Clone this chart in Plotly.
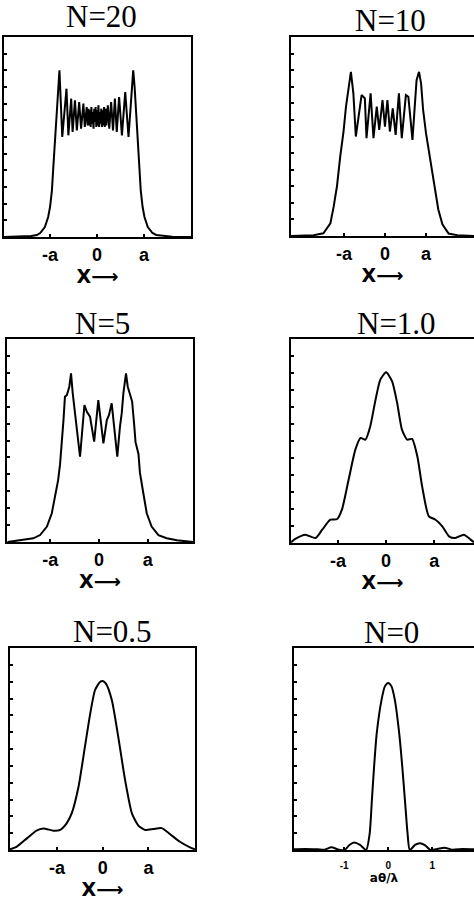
import plotly.graph_objects as go

W, H = 474, 904

# ---------------- data ----------------
x_n20 = [-2.06, -1.6, -1.4, -1.28, -1.21, -1.11, -1.04, -1.0, -0.96, -0.93, -0.89, -0.86, -0.82, -0.80,
         -0.74, -0.65, -0.61, -0.55, -0.52, -0.47, -0.43, -0.38, -0.34, -0.29, -0.26, -0.22,
         -0.20, -0.18, -0.165, -0.15, -0.135, -0.12, -0.105, -0.09, -0.075, -0.06, -0.045, -0.03,
         -0.015, 0.0, 0.015, 0.03, 0.045, 0.06, 0.075, 0.09, 0.105, 0.12, 0.135, 0.15, 0.165, 0.18,
         0.20, 0.23,
         0.26, 0.30, 0.34, 0.38, 0.42, 0.47, 0.53, 0.60, 0.67, 0.77,
         0.80, 0.83, 0.86, 0.90, 0.93, 0.97, 1.01, 1.08, 1.18, 1.26, 1.4, 1.6, 2.06]
y_n20 = [0.0, 0.02, 0.06, 0.12, 0.24, 0.6, 1.2, 1.8, 2.8, 4.2, 5.8, 7.6, 9.0, 10.0,
         6.0, 8.9, 6.1, 8.3, 6.3, 8.2, 6.4, 8.1, 6.5, 8.0, 6.6, 7.8,
         6.7, 7.7, 6.7, 7.6, 6.6, 7.8, 6.8, 7.5, 6.5, 7.7, 6.9, 7.8,
         6.6, 7.6, 6.7, 7.9, 6.6, 7.5, 6.8, 7.7, 6.6, 7.6, 6.7, 7.8, 6.6, 7.7,
         6.7, 7.9,
         6.5, 8.1, 6.4, 8.3, 6.3, 8.4, 6.1, 8.7, 6.0, 10.0,
         9.0, 7.6, 5.8, 4.2, 2.8, 1.8, 1.2, 0.6, 0.24, 0.12, 0.06, 0.02, 0.0]

x_n10 = [-2.29, -1.74, -1.50, -1.33, -1.25, -1.17, -1.09, -1.01, -0.95, -0.89, -0.83, -0.77, -0.71,
         -0.57, -0.49, -0.45, -0.35, -0.28, -0.20, -0.14, -0.06, 0.0, 0.06, 0.12, 0.19, 0.26, 0.34,
         0.41, 0.51, 0.57, 0.67, 0.77, 0.83, 0.88, 0.93, 1.0, 1.1, 1.2, 1.3, 1.4, 1.55, 1.76, 2.17]
y_n10 = [0.0, 0.05, 0.16, 0.77, 1.77, 3.0, 4.8, 6.3, 7.8, 9.0, 9.9, 8.6, 6.0,
         8.5, 8.3, 5.9, 8.6, 5.9, 7.8, 6.4, 8.2, 6.6, 8.2, 6.3, 7.7, 6.1, 8.6,
         5.9, 8.5, 8.4, 5.8, 9.4, 9.9, 9.2, 7.6, 6.2, 4.6, 3.0, 1.6, 0.7, 0.15, 0.05, 0.0]

x_n5 = [-1.88, -1.55, -1.35, -1.21, -1.07, -0.97, -0.90, -0.84, -0.80, -0.77, -0.73, -0.70, -0.66,
        -0.61, -0.575, -0.54, -0.49, -0.45, -0.39, -0.30, -0.25, -0.185, -0.10, -0.015, 0.09, 0.16,
        0.205, 0.26, 0.375, 0.43, 0.466, 0.50, 0.554, 0.59, 0.64, 0.68, 0.72, 0.75, 0.81, 0.84, 0.91,
        0.98, 1.08, 1.22, 1.39, 1.6, 1.93]
y_n5 = [0.0, 0.12, 0.22, 0.41, 0.91, 1.70, 2.88, 3.66, 4.6, 5.6, 7.2, 8.59, 8.69,
        9.18, 9.97, 8.79, 7.6, 6.82, 5.04, 8.10, 7.70, 7.41, 5.93, 8.39, 5.83, 7.21,
        7.51, 8.2, 5.04, 6.82, 7.6, 8.79, 9.97, 9.18, 8.6, 8.3, 7.0, 5.9, 5.2, 4.1, 2.88,
        1.70, 0.91, 0.41, 0.22, 0.1, 0.0]

x_n1 = [-1.98, -1.89, -1.68, -1.47, -1.33, -1.16, -1.02, -0.92, -0.78, -0.64, -0.53, -0.43, -0.33,
        -0.22, -0.12, 0.0, 0.125, 0.23, 0.33, 0.44, 0.54, 0.65, 0.75, 0.89, 1.03, 1.17, 1.31, 1.44,
        1.62, 1.76, 1.83]
y_n1 = [0.04, 0.24, 0.49, 0.29, 0.78, 1.37, 1.41, 1.96, 3.73, 5.49, 6.18, 6.08, 6.86,
        8.43, 9.61, 10.04, 9.51, 8.24, 6.67, 6.08, 6.12, 5.10, 3.33, 1.57, 1.37, 0.98, 0.39, 0.29,
        0.49, 0.20, 0.04]

x_n05 = [-2.03, -1.88, -1.66, -1.45, -1.30, -1.08, -0.93, -0.79, -0.68, -0.53, -0.39, -0.28, -0.17,
         -0.06, 0.0, 0.07, 0.20, 0.34, 0.49, 0.64, 0.78, 0.93, 1.11, 1.29, 1.47, 1.69, 1.91, 2.02]
y_n05 = [0.04, 0.2, 0.69, 1.15, 1.28, 1.15, 1.2, 1.58, 2.17, 3.76, 6.13, 8.0, 9.49,
         9.98, 10.04, 9.88, 8.9, 6.72, 4.15, 2.17, 1.45, 1.19, 1.25, 1.30, 0.95, 0.49, 0.16, 0.04]

x_n0 = [-2.14, -1.9, -1.6, -1.45, -1.29, -1.12, -0.99, -0.88, -0.77, -0.64, -0.50, -0.42, -0.37,
        -0.32, -0.26, -0.15, -0.075, 0.0, 0.075, 0.15, 0.25, 0.32, 0.38, 0.44, 0.49, 0.61, 0.72,
        0.84, 0.96, 1.12, 1.28, 1.45, 1.7, 1.95]
y_n0 = [0.04, 0.06, 0.04, 0.02, 0.16, 0.02, 0.0, 0.3, 0.44, 0.3, 0.0, 0.99, 2.98,
        4.96, 6.94, 8.93, 9.72, 9.92, 9.72, 8.93, 6.94, 4.96, 2.98, 0.99, 0.0, 0.3, 0.40,
        0.28, 0.0, 0.06, 0.14, 0.02, 0.06, 0.04]

titles = ["N=20", "N=10", "N=5", "N=1.0", "N=0.5", "N=0"]
tick_vals = [-1, 0, 1]
tick_text_a = ["-a", "0", "a"]
tick_text_n0 = ["-1", "0", "1"]
xtitle_a = "X\u27f6"
xtitle_n0 = "a\u03b8/\u03bb"

series = [(x_n20, y_n20, "linear"), (x_n10, y_n10, "linear"), (x_n5, y_n5, "linear"),
          (x_n1, y_n1, "spline"), (x_n05, y_n05, "spline"), (x_n0, y_n0, "spline")]

# ---------------- layout geometry (pixels) ----------------
boxes = [(4, 191, 37, 237), (291, 474, 37, 236), (7, 193, 339, 542),
         (291, 474, 339, 543), (10, 195, 648, 850), (294, 474, 648, 850)]
xranges = [[-1.98, 2.0], [-2.29, 2.17], [-1.89, 1.93], [-1.98, 1.83], [-2.03, 2.02], [-2.14, 1.95]]
# (centre x, baseline y) of each panel title
title_pos = [(101, 28.5), (390, 32), (102, 335), (396, 335), (112, 643), (391, 644)]
TITLE_SIZE = 31

fig = go.Figure()
layout = dict(width=W, height=H, margin=dict(l=0, r=0, t=0, b=0),
              paper_bgcolor="white", plot_bgcolor="white", showlegend=False)
annotations = []

for i, ((xs, ys, shape), (l, r, t, b)) in enumerate(zip(series, boxes)):
    k = "" if i == 0 else str(i + 1)
    fig.add_trace(go.Scatter(x=xs, y=ys, mode="lines", xaxis="x" + k, yaxis="y" + k,
                             line=dict(color="black", width=2, shape=shape, smoothing=0.6),
                             hoverinfo="skip", cliponaxis=True))
    right_cut = (r >= W)
    n0 = (i == 5)
    layout["xaxis" + k] = dict(
        domain=[l / W, r / W], range=xranges[i], anchor="y" + k,
        showline=True, linecolor="black", linewidth=2, mirror=True,
        showgrid=False, zeroline=False,
        ticks="inside", ticklen=3, tickwidth=1.5, tickcolor="black",
        tickvals=tick_vals, ticktext=tick_text_n0 if n0 else tick_text_a,
        tickfont=dict(family="Liberation Sans, Arial, sans-serif", size=10 if n0 else 18,
                      color="black", weight="bold"),
        ticklabelstandoff=5 if n0 else 0,
        title=dict(text=xtitle_n0 if n0 else xtitle_a, standoff=0,
                   font=dict(family="DejaVu Sans, sans-serif", size=12 if n0 else 19,
                             color="black", weight="bold")),
        fixedrange=True)
    layout["yaxis" + k] = dict(
        domain=[1 - b / H, 1 - t / H], range=[0, 12], anchor="x" + k,
        showline=True, linecolor="black", linewidth=2, mirror=(not right_cut),
        showgrid=False, zeroline=False, showticklabels=False,
        ticks="inside", ticklen=3, tickwidth=1.5, tickcolor="black", dtick=1,
        fixedrange=True)
    tx, ty = title_pos[i]
    annotations.append(dict(text=titles[i], xref="paper", yref="paper",
                            x=tx / W, y=1 - ty / H, xanchor="center", yanchor="bottom",
                            yshift=-7, showarrow=False, borderpad=0,
                            font=dict(family="Liberation Serif, Times New Roman, serif",
                                      size=TITLE_SIZE, color="black")))

layout["annotations"] = annotations
fig.update_layout(**layout)
fig.write_html("out.html")
